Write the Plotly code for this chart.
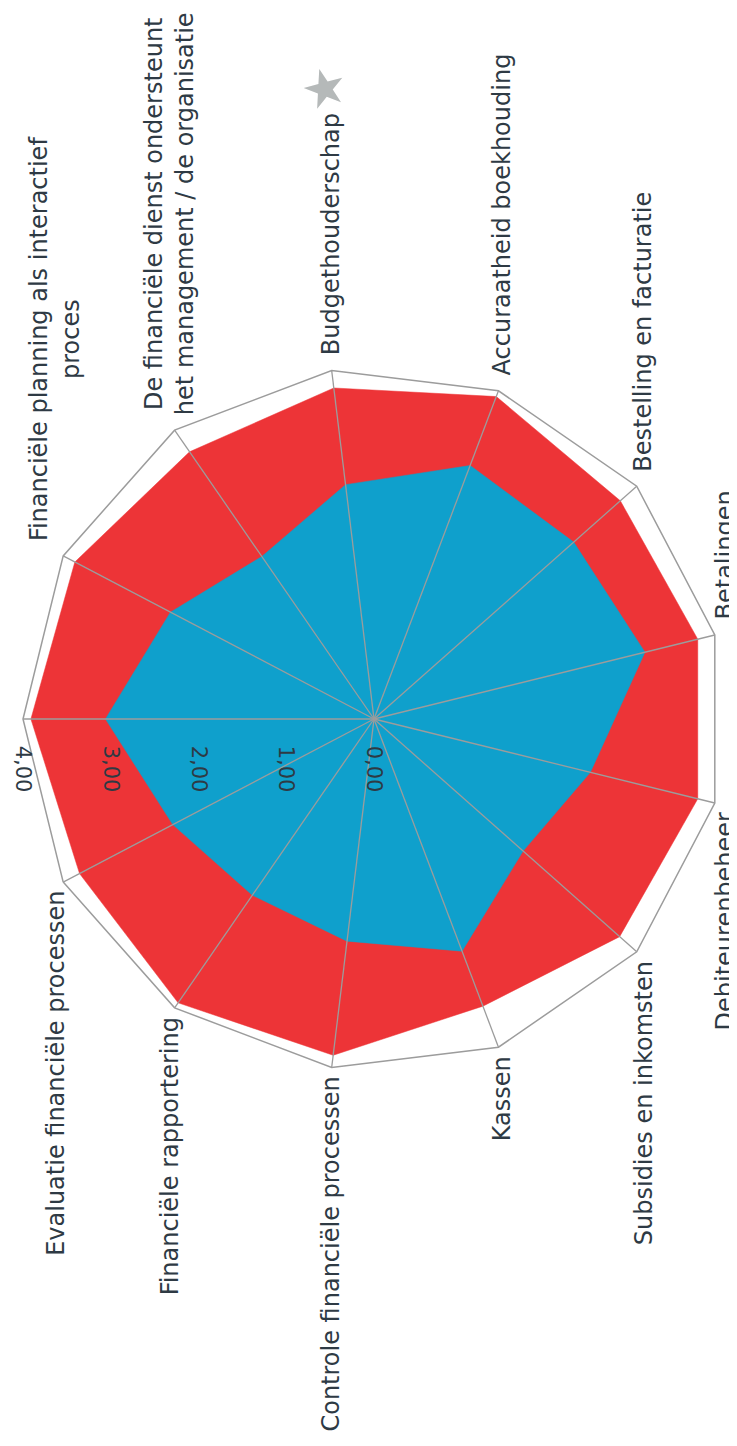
import math
import plotly.graph_objects as go

W, H = 737, 1446

categories = [
    " ",
    "Financiële planning als interactief<br>proces",
    "De financiële dienst ondersteunt<br>het management / de organisatie",
    "Budgethouderschap",
    "Accuraatheid boekhouding",
    "Bestelling en facturatie",
    "Betalingen",
    "Debiteurenbeheer",
    "Subsidies en inkomsten",
    "Kassen",
    "Controle financiële processen",
    "Financiële rapportering",
    "Evaluatie financiële processen",
]

red_values = [3.91, 3.85, 3.70, 3.80, 3.93, 3.75, 3.80, 3.80, 3.74, 3.50, 3.86, 3.93, 3.79]
blue_values = [3.06, 2.62, 2.25, 2.69, 3.09, 3.04, 3.18, 2.54, 2.27, 2.83, 2.55, 2.44, 2.59]

radial_ticks = [0, 1, 2, 3, 4]
r_max = 4

RED = "#ED3437"
BLUE = "#0FA0CC"
GRID = "#9c9c9c"
TEXT = "#2e3a44"
FONT = "DejaVu Sans"

fig = go.Figure()
fig.add_trace(go.Scatterpolar(
    r=red_values + red_values[:1],
    theta=categories + categories[:1],
    fill="toself", fillcolor=RED,
    mode="lines", line=dict(color=RED, width=0.5),
    hoverinfo="skip", showlegend=False,
))
fig.add_trace(go.Scatterpolar(
    r=blue_values + blue_values[:1],
    theta=categories + categories[:1],
    fill="toself", fillcolor=BLUE,
    mode="lines", line=dict(color=BLUE, width=0.5),
    hoverinfo="skip", showlegend=False,
))

# spokes drawn above the filled areas
spoke_r, spoke_t = [], []
for c in categories:
    spoke_r += [0, r_max, None]
    spoke_t += [c, c, None]
fig.add_trace(go.Scatterpolar(
    r=spoke_r, theta=spoke_t, mode="lines",
    line=dict(color=GRID, width=1.3), connectgaps=False,
    hoverinfo="skip", showlegend=False,
))

# polar geometry in pixels
CX, CY, RPX = 366, 711, 351
cx0, cx1 = (CX - RPX) / W, (CX + RPX) / W
cyc = (H - CY) / H
half = RPX / H

# category labels (rotated text, like the reference)
n = len(categories)
annotations = []
for i, c in enumerate(categories):
    if not c.strip():
        continue
    th = math.radians(180 - i * 360 / n)
    vx = CX + RPX * math.cos(th)
    vy = CY - RPX * math.sin(th)
    if math.cos(th) > 0.9:
        ax, xanc = W - 5, "right"
    else:
        ax, xanc = vx + 9 * math.cos(th), "center"
    if math.sin(th) > 0:
        ay, yanc = vy - 14, "bottom"
    else:
        ay, yanc = vy + 8, "top"
    annotations.append(dict(
        text=c, x=ax / W, y=1 - ay / H, xref="paper", yref="paper",
        xanchor=xanc, yanchor=yanc, textangle=-90, showarrow=False,
        align="center", borderpad=0,
        font=dict(family=FONT, size=24, color=TEXT),
    ))

annotations.append(dict(
    text="★", x=316 / W, y=1 - 42 / H, xref="paper", yref="paper",
    showarrow=False, font=dict(size=52, color="#b5b9b9"), textangle=-15,
))

fig.update_layout(
    width=W, height=H,
    margin=dict(l=0, r=0, t=0, b=0),
    paper_bgcolor="white",
    separators=",.",
    font=dict(family=FONT, size=20, color=TEXT),
    polar=dict(
        domain=dict(x=[cx0, cx1], y=[cyc - half, cyc + half]),
        bgcolor="white",
        gridshape="linear",
        angularaxis=dict(
            type="category",
            categoryarray=categories,
            rotation=180,
            direction="clockwise",
            showline=True, linecolor=GRID, linewidth=1.5,
            showgrid=False,
            ticks="", showticklabels=False,
        ),
        radialaxis=dict(
            range=[0, r_max],
            tickvals=radial_ticks,
            tickformat=".2f",
            angle=180,
            tickangle=-90,
            showgrid=False,
            showline=False,
            ticks="outside", ticklen=22, tickcolor="rgba(0,0,0,0)",
            side="counterclockwise",
            tickfont=dict(family=FONT, size=21, color=TEXT),
            layer="above traces",
        ),
    ),
    annotations=annotations,
)

fig.write_html("out.html")
